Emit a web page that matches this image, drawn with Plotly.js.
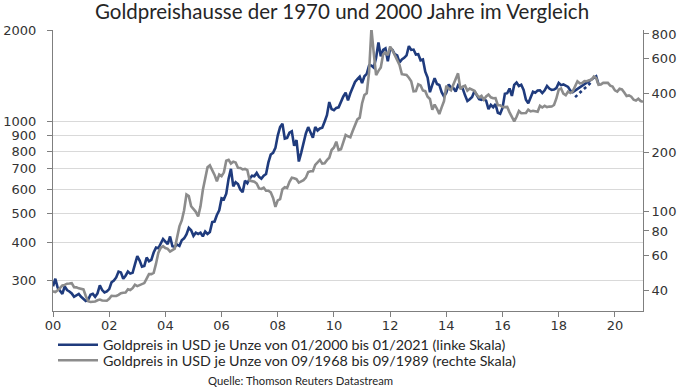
<!DOCTYPE html>
<html>
<head>
<meta charset="utf-8">
<script src="https://cdn.plot.ly/plotly-3.0.1.min.js"></script>
<style>html,body{margin:0;padding:0;background:#fff;}#chart{width:684px;height:388px;}</style>
</head>
<body>
<div id="chart"></div>
<script>
// Gold price USD/oz, monthly, from 01/2000 (left scale)
const blueStart = 2000; // first month = 01/2000
const blueValues = [
  // 2000
  288, 305, 285, 278, 272, 288, 280, 277, 273, 266, 269, 272,
  // 2001
  266, 262, 258, 260, 270, 272, 266, 273, 290, 280, 275, 277,
  // 2002
  282, 297, 301, 308, 322, 320, 305, 312, 322, 317, 319, 340,
  // 2003
  362, 350, 334, 336, 358, 348, 352, 372, 386, 384, 398, 412,
  // 2004
  404, 396, 420, 390, 388, 395, 391, 408, 414, 426, 448, 440,
  // 2005
  422, 432, 428, 432, 420, 436, 428, 434, 468, 470, 494, 512,
  // 2006
  560, 556, 580, 650, 700, 613, 633, 624, 599, 587, 640, 628,
  // 2007
  650, 665, 662, 679, 659, 650, 665, 673, 735, 780, 790, 820,
  // 2008
  900, 960, 985, 880, 885, 920, 930, 833, 870, 740, 790, 860,
  // 2009
  915, 960, 920, 885, 960, 935, 950, 955, 1000, 1050, 1160, 1100,
  // 2010
  1090, 1110, 1115, 1170, 1210, 1245, 1175, 1240, 1300, 1350, 1380, 1405,
  // 2011
  1340, 1410, 1435, 1530, 1530, 1505, 1620, 1820, 1640, 1720, 1740, 1580,
  // 2012
  1740, 1720, 1665, 1650, 1565, 1600, 1620, 1650, 1770, 1720, 1725, 1660,
  // 2013
  1665, 1590, 1600, 1460, 1395, 1250, 1320, 1390, 1330, 1320, 1250, 1210,
  // 2014
  1245, 1325, 1295, 1290, 1255, 1315, 1290, 1285, 1220, 1170, 1185, 1205,
  // 2015
  1260, 1215, 1185, 1180, 1190, 1172, 1100, 1135, 1115, 1142, 1070, 1062,
  // 2016
  1110, 1235, 1240, 1285, 1215, 1320, 1345, 1310, 1322, 1272, 1180, 1150,
  // 2017
  1210, 1255, 1245, 1265, 1268, 1242, 1268, 1310, 1285, 1272, 1275, 1290,
  // 2018 (Jan..Jul), then gap until 05/2019
  1340, 1318, 1325, 1316, 1300, 1265, 1250,
  null, null, null, null, null, null, null, null, null,
  // 2019 (May, Jun)
  1410, 1325
];
// dotted part of the left-scale series, 08/2018 .. 03/2019
const blueDottedStart = 2018 + 7 / 12;
const blueDottedValues = [1204, 1225, 1250, 1270, 1285, 1305, 1325, 1350];

// Gold price USD/oz, monthly, from 09/1968 (right scale), plotted on the same 21-year axis
const grayValues = [
  // 1968 Sep-Dec
  39.5, 39.2, 40.0, 41.1,
  // 1969
  42.3, 42.6, 43.2, 43.3, 43.5, 41.5, 41.4, 40.9, 40.8, 40.4, 37.4, 35.2,
  // 1970
  34.9, 35.0, 35.1, 35.6, 35.9, 35.5, 35.3, 35.4, 36.2, 37.5, 37.4, 37.4,
  // 1971
  37.9, 38.7, 38.9, 39.0, 40.5, 40.1, 41.0, 42.7, 42.0, 42.5, 42.9, 43.5,
  // 1972
  45.8, 48.3, 48.3, 49.0, 54.6, 62.1, 65.7, 67.0, 65.5, 64.9, 62.9, 63.9,
  // 1973
  65.1, 74.2, 84.4, 90.5, 102.0, 122.5, 120.2, 106.8, 103.0, 100.1, 94.8, 106.7,
  // 1974
  129.2, 150.2, 168.4, 172.2, 163.3, 154.1, 143.0, 154.6, 151.8, 158.8, 181.7, 183.8,
  // 1975
  176.0, 179.6, 178.2, 167.3, 167.0, 164.2, 165.2, 163.0, 144.1, 142.7, 142.2, 139.3,
  // 1976
  131.6, 130.7, 132.6, 128.1, 128.0, 125.7, 117.8, 106.0, 114.4, 116.0, 130.3, 133.4,
  // 1977
  132.3, 142.2, 148.9, 148.0, 146.6, 140.8, 143.4, 144.8, 149.2, 159.2, 160.8, 161.0,
  // 1978
  173.2, 178.2, 183.7, 175.7, 176.3, 183.1, 188.2, 206.1, 212.4, 227.3, 206.0, 207.8,
  // 1979
  227.3, 245.7, 242.0, 239.2, 257.6, 279.0, 294.7, 300.8, 355.2, 391.7, 400.0, 512.0,
  // 1980
  850.0, 640.0, 495.0, 520.0, 540.0, 630.0, 645.0, 625.0, 690.0, 660.0, 625.0, 590.0,
  // 1981
  557.6, 500.0, 498.8, 495.8, 479.7, 460.8, 409.3, 410.1, 443.8, 437.8, 413.4, 410.1,
  // 1982
  384.1, 374.2, 330.2, 350.5, 333.9, 314.0, 339.1, 364.9, 437.0, 422.0, 414.0, 444.3,
  // 1983
  481.3, 505.0, 419.7, 432.8, 437.4, 412.9, 422.6, 416.0, 411.7, 393.6, 381.7, 388.0,
  // 1984
  370.9, 385.5, 394.3, 381.5, 377.6, 377.8, 348.0, 347.7, 340.8, 340.2, 341.2, 320.2,
  // 1985
  302.8, 288.0, 304.0, 324.8, 316.6, 316.8, 317.3, 330.4, 323.5, 326.0, 325.3, 322.0,
  // 1986
  345.4, 338.9, 345.7, 340.4, 342.4, 342.6, 348.7, 376.5, 417.7, 423.3, 398.1, 391.0,
  // 1987
  408.3, 401.1, 408.9, 438.4, 460.2, 449.6, 451.0, 461.0, 460.2, 465.5, 467.9, 486.3,
  // 1988
  477.3, 442.0, 443.6, 451.7, 451.5, 451.6, 437.2, 432.9, 414.0, 408.2, 421.5, 418.6,
  // 1989 Jan-Sep
  404.0, 387.8, 390.1, 384.2, 371.0, 367.6, 375.0, 365.4, 361.8
];

const xTickVals = [2000, 2002, 2004, 2006, 2008, 2010, 2012, 2014, 2016, 2018, 2020];
const xTickText = ['00', '02', '04', '06', '08', '10', '12', '14', '16', '18', '20'];
const leftTickVals = [300, 400, 500, 600, 700, 800, 900, 1000, 2000];
const rightTickVals = [40, 60, 80, 100, 200, 400, 600, 800];

const blueName = 'Goldpreis in USD je Unze von 01/2000 bis 01/2021 (linke Skala)';
const grayName = 'Goldpreis in USD je Unze von 09/1968 bis 09/1989 (rechte Skala)';
const titleText = 'Goldpreishausse der 1970 und 2000 Jahre im Vergleich';
const sourceText = 'Quelle: Thomson Reuters Datastream';

const monthX = (start, n) => Array.from({length: n}, (_, i) => start + i / 12);

const blueColor = '#1f3b7d';
const grayColor = '#8c8c8c';

const traces = [
  {
    x: monthX(blueStart, blueValues.length), y: blueValues,
    type: 'scatter', mode: 'lines', name: blueName, connectgaps: true,
    line: {color: blueColor, width: 2.6}, yaxis: 'y', legend: 'legend'
  },
  {
    x: monthX(blueDottedStart, blueDottedValues.length), y: blueDottedValues,
    type: 'scatter', mode: 'lines', showlegend: false,
    line: {color: blueColor, width: 2.6, dash: 'dot'}, yaxis: 'y'
  },
  {
    x: monthX(2000, grayValues.length), y: grayValues,
    type: 'scatter', mode: 'lines', name: grayName,
    line: {color: grayColor, width: 2.6}, yaxis: 'y2', legend: 'legend2'
  }
];

const tickFont = {family: 'DejaVu Sans, sans-serif', size: 13, color: '#333333'};
const axisColor = '#7f7f7f';
const legendFont = {family: 'Lato, sans-serif', size: 14.3, color: '#262626'};

const layout = {
  width: 684, height: 388,
  margin: {l: 53, r: 41, t: 30, b: 77, autoexpand: false},
  paper_bgcolor: '#ffffff', plot_bgcolor: '#ffffff',
  title: {
    text: titleText, x: 0.5, xanchor: 'center', y: 0.989, yanchor: 'top',
    font: {family: 'Lato, sans-serif', size: 20.5, color: '#262626'}
  },
  xaxis: {
    type: 'linear', range: [2000, 2021],
    tickvals: xTickVals, ticktext: xTickText,
    ticks: 'outside', ticklen: 5, tickcolor: axisColor,
    showline: true, linecolor: axisColor, linewidth: 1,
    showgrid: false, zeroline: false, tickfont: tickFont, ticklabelstandoff: -3
  },
  yaxis: {
    type: 'log', range: [Math.log10(239), Math.log10(2000)],
    tickvals: leftTickVals, ticktext: leftTickVals.map(String),
    ticks: 'outside', ticklen: 5, tickcolor: axisColor,
    showline: true, linecolor: axisColor, linewidth: 1,
    showgrid: true, gridcolor: '#d9d9d9', gridwidth: 1,
    zeroline: false, tickfont: tickFont, ticklabelstandoff: 8
  },
  yaxis2: {
    type: 'log', range: [Math.log10(31.4), Math.log10(838)],
    overlaying: 'y', side: 'right',
    tickvals: rightTickVals, ticktext: rightTickVals.map(String),
    ticks: 'outside', ticklen: 5, tickcolor: axisColor,
    showline: true, linecolor: axisColor, linewidth: 1,
    showgrid: false, zeroline: false, tickfont: tickFont
  },
  showlegend: true,
  legend: {
    orientation: 'v', x: 0.0, xanchor: 'left', y: -0.121, yanchor: 'middle',
    font: legendFont, bgcolor: 'rgba(0,0,0,0)', itemwidth: 40
  },
  legend2: {
    orientation: 'v', x: 0.0, xanchor: 'left', y: -0.176, yanchor: 'middle',
    font: legendFont, bgcolor: 'rgba(0,0,0,0)', itemwidth: 40
  },
  annotations: [{
    text: sourceText, xref: 'paper', yref: 'paper', x: 0.42, y: -0.249,
    xanchor: 'center', yanchor: 'middle', showarrow: false,
    font: {family: 'Lato, sans-serif', size: 11.3, color: '#262626'}
  }]
};

Plotly.newPlot('chart', traces, layout, {displayModeBar: false, staticPlot: true});
</script>
</body>
</html>
